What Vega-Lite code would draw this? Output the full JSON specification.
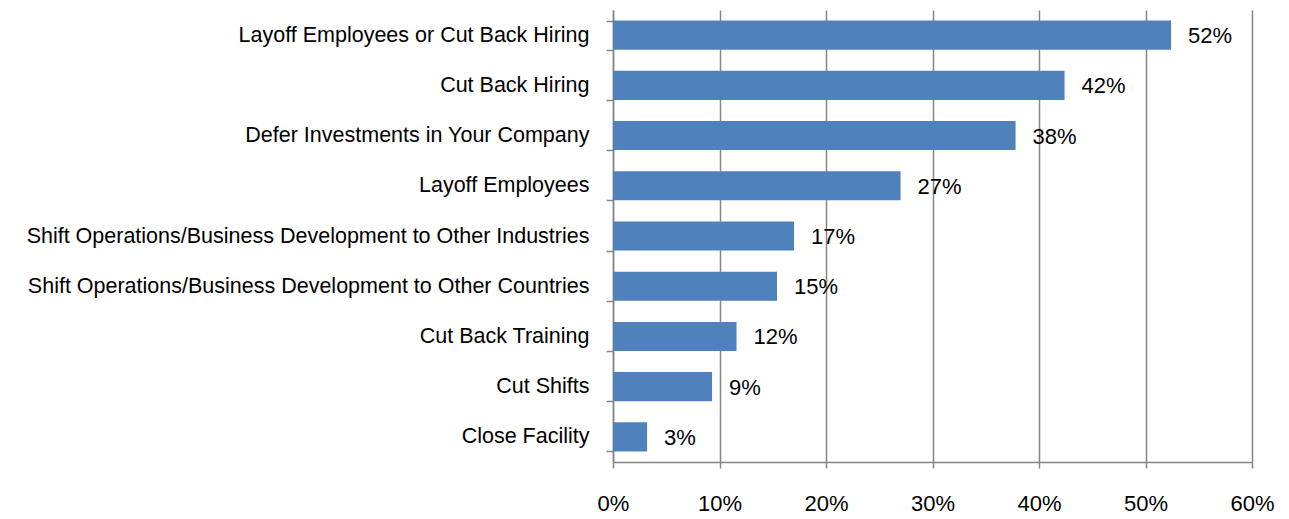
{
  "$schema": "https://vega.github.io/schema/vega-lite/v6.json",
  "autosize": {"type": "none"},
  "width": 639,
  "height": 452,
  "padding": {"left": 613, "top": 10, "right": 37, "bottom": 57},
  "background": "white",
  "config": {
    "view": {"stroke": null},
    "font": "Liberation Sans"
  },
  "data": {
    "values": [
      {"category": "Layoff Employees or Cut Back Hiring", "value": 0.524, "label": "52%"},
      {"category": "Cut Back Hiring", "value": 0.424, "label": "42%"},
      {"category": "Defer Investments in Your Company", "value": 0.378, "label": "38%"},
      {"category": "Layoff Employees", "value": 0.27, "label": "27%"},
      {"category": "Shift Operations/Business Development to Other Industries", "value": 0.17, "label": "17%"},
      {"category": "Shift Operations/Business Development to Other Countries", "value": 0.154, "label": "15%"},
      {"category": "Cut Back Training", "value": 0.116, "label": "12%"},
      {"category": "Cut Shifts", "value": 0.093, "label": "9%"},
      {"category": "Close Facility", "value": 0.032, "label": "3%"}
    ]
  },
  "encoding": {
    "y": {
      "field": "category",
      "type": "nominal",
      "sort": null,
      "scale": {"paddingInner": 0.42, "paddingOuter": 0.21},
      "axis": {
        "title": null,
        "tickBand": "extent",
        "domainColor": "#868686",
        "domainWidth": 1.5,
        "tickColor": "#868686",
        "tickWidth": 1.5,
        "tickSize": 7,
        "labelPadding": 17,
        "labelFontSize": 21.5,
        "labelColor": "#000000",
        "labelLimit": 700,
        "grid": false
      }
    },
    "x": {
      "field": "value",
      "type": "quantitative",
      "scale": {"domain": [0, 0.6], "nice": false},
      "axis": {
        "title": null,
        "format": ".0%",
        "values": [0, 0.1, 0.2, 0.3, 0.4, 0.5, 0.6],
        "labelFlush": false,
        "grid": true,
        "gridColor": "#868686",
        "gridWidth": 1.5,
        "domainColor": "#868686",
        "domainWidth": 1.5,
        "tickColor": "#868686",
        "tickWidth": 1.5,
        "tickSize": 6,
        "labelPadding": 25,
        "labelFontSize": 22,
        "labelColor": "#000000"
      }
    }
  },
  "layer": [
    {"mark": {"type": "bar", "color": "#4F81BD"}},
    {
      "mark": {"type": "text", "align": "left", "dx": 17, "dy": 1, "fontSize": 22, "color": "#000000"},
      "encoding": {"text": {"field": "label"}}
    }
  ]
}
